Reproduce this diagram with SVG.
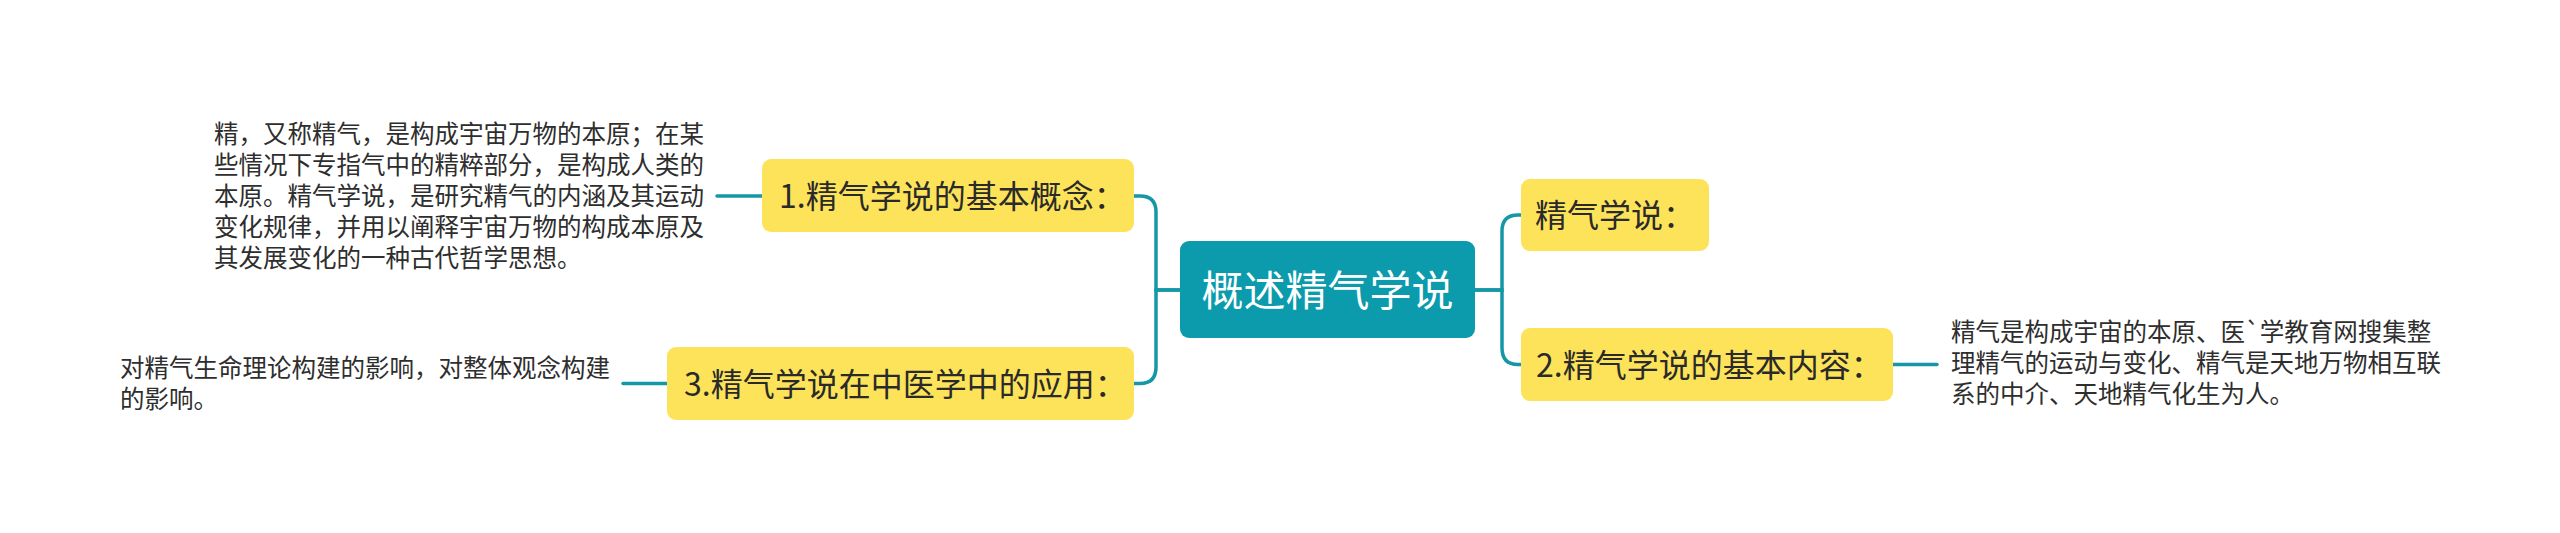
<svg xmlns="http://www.w3.org/2000/svg" width="2560" height="533" viewBox="0 0 2560 533">
<style>
.link{fill:none;stroke:#1597a7;stroke-width:3.5;stroke-linecap:round}
.main{fill:#0b9bac}
.sub{fill:#fde35a}
.t{font-family:"Noto Sans CJK SC","Noto Sans",sans-serif}
.mt{font-size:42px;fill:#ffffff}
.st{font-size:32px;fill:#2a2a2a}
.lt{font-size:24.5px;fill:#2e2e2e}
</style>
<rect width="2560" height="533" fill="#ffffff"/>
<g id="connectors">
<path class="link" d="M1180,290 H1156 V212 Q1156,196 1140,196 H1134"/>
<path class="link" d="M1180,290 H1156 V367 Q1156,383.5 1140,383.5 H1134"/>
<path class="link" d="M1475,290 H1502 V231 Q1502,215 1518,215 H1521"/>
<path class="link" d="M1475,290 H1502 V348 Q1502,364.5 1518,364.5 H1521"/>
<path class="link" d="M762,196 H717"/>
<path class="link" d="M667,383.5 H623"/>
<path class="link" d="M1893,364.5 H1937"/>
</g>
<g id="center">
<rect class="main" x="1180" y="241" width="295" height="97" rx="9"/>
<text class="t mt" x="1327.5" y="306" text-anchor="middle">概述精气学说</text>
</g>
<g id="n1">
<rect class="sub" x="762" y="159" width="372" height="73" rx="9"/>
<text class="t st" x="779" y="207.5">1.精气学说的基本概念：</text>
</g>
<g id="n1-leaf">
<text class="t lt"><tspan x="214" y="143">精，又称精气，是构成宇宙万物的本原；在某</tspan><tspan x="214" y="174">些情况下专指气中的精粹部分，是构成人类的</tspan><tspan x="214" y="205">本原。精气学说，是研究精气的内涵及其运动</tspan><tspan x="214" y="236">变化规律，并用以阐释宇宙万物的构成本原及</tspan><tspan x="214" y="267">其发展变化的一种古代哲学思想。</tspan></text>
</g>
<g id="n3">
<rect class="sub" x="667" y="347" width="467" height="73" rx="9"/>
<text class="t st" x="684" y="395.5">3.精气学说在中医学中的应用：</text>
</g>
<g id="n3-leaf">
<text class="t lt"><tspan x="120" y="377">对精气生命理论构建的影响，对整体观念构建</tspan><tspan x="120" y="408">的影响。</tspan></text>
</g>
<g id="n0">
<rect class="sub" x="1521" y="179" width="188" height="72" rx="9"/>
<text class="t st" x="1535" y="227">精气学说：</text>
</g>
<g id="n2">
<rect class="sub" x="1521" y="328" width="372" height="73" rx="9"/>
<text class="t st" x="1536" y="376.5">2.精气学说的基本内容：</text>
</g>
<g id="n2-leaf">
<text class="t lt"><tspan x="1951" y="341">精气是构成宇宙的本原、医`学教育网搜集整</tspan><tspan x="1951" y="372">理精气的运动与变化、精气是天地万物相互联</tspan><tspan x="1951" y="403">系的中介、天地精气化生为人。</tspan></text>
</g>
</svg>
